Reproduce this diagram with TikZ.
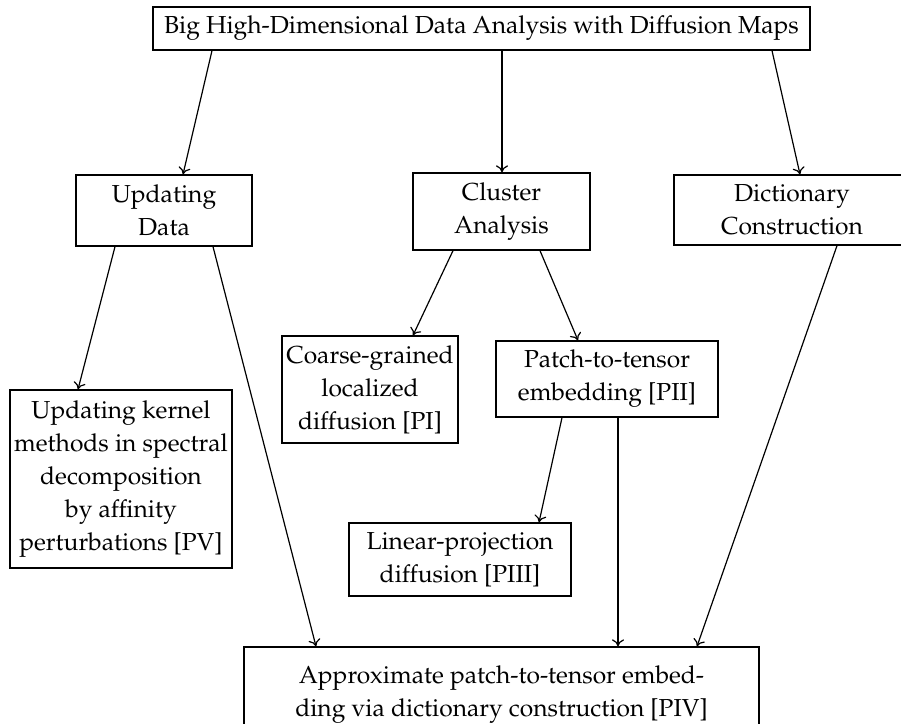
\documentclass[tikz,border=0pt]{standalone}
\usepackage[T1]{fontenc}
\renewcommand\rmdefault{ppl}
\usetikzlibrary{arrows.meta}
\begin{document}
\begin{tikzpicture}[x=1pt,y=-1pt,
  box/.style={draw, line width=1.3pt, inner sep=0pt, align=center,
    font=\fontsize{24.6}{33}\selectfont},
  arr/.style={-{To[length=7pt,width=12pt]}, line width=1.2pt}]
\useasboundingbox (0,0) rectangle (901,723);
\fill[white] (0,0) rectangle (901,723);
\clip (0,0) rectangle (901,723);

\node[box, minimum width=657pt, minimum height=43pt] (title) at (481.5,28.5)
  {Big High-Dimensional Data Analysis with Diffusion Maps};
\node[box, minimum width=176pt, minimum height=71pt] (upd) at (164,210.5)
  {Updating\\Data};
\node[box, minimum width=177pt, minimum height=77pt] (clu) at (501.5,211.5)
  {Cluster\\Analysis};
\node[box, minimum width=236pt, minimum height=70pt] (dic) at (792,210)
  {Dictionary\\Construction};
\node[box, minimum width=176pt, minimum height=107pt] (coarse) at (370,389.5)
  {Coarse-grained\\localized\\diffusion [PI]};
\node[box, minimum width=222pt, minimum height=76pt] (patch) at (607,379)
  {Patch-to-tensor\\embedding [PII]};
\node[box, minimum width=222pt, minimum height=178pt] (kernel) at (121,479)
  {Updating kernel\\methods in spectral\\decomposition\\by affinity\\perturbations [PV]};
\node[box, minimum width=222pt, minimum height=73pt] (linear) at (460,559.5)
  {Linear-projection\\diffusion [PIII]};
\node[box, minimum width=515pt, minimum height=96pt] (approx) at (501.5,695)
  {Approximate patch-to-tensor embed-\\ding via dictionary construction [PIV]};

\draw[arr] (title.south -| 212,0) -- (upd.north -| 183,0);
\draw[arr] (title.south -| 502,0) -- (clu.north -| 502,0);
\draw[arr] (title.south -| 772,0) -- (dic.north -| 800,0);
\draw[arr] (upd.south -| 115,0) -- (kernel.north -| 78,0);
\draw[arr] (upd.south -| 213,0) -- (approx.north -| 316,0);
\draw[arr] (clu.south -| 453,0) -- (coarse.north -| 413,0);
\draw[arr] (clu.south -| 540,0) -- (patch.north -| 578,0);
\draw[arr] (patch.south -| 562,0) -- (linear.north -| 539,0);
\draw[arr] (patch.south -| 618,0) -- (approx.north -| 618,0);
\draw[arr] (dic.south -| 837,0) -- (approx.north -| 697,0);
\end{tikzpicture}
\end{document}
